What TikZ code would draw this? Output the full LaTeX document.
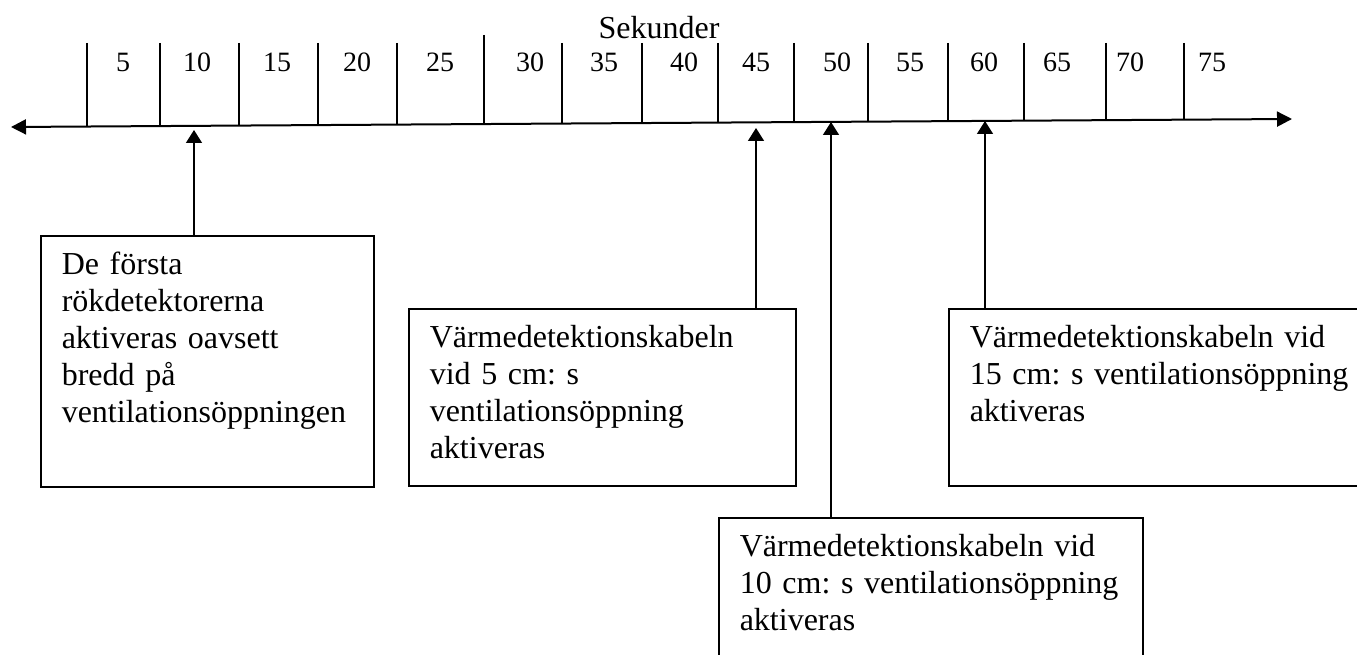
\documentclass[tikz,border=0pt]{standalone}
\usepackage{fontspec}
\setmainfont{Liberation Serif}
\usetikzlibrary{arrows.meta}
\frenchspacing
\hyphenpenalty=10000
\exhyphenpenalty=10000
\tikzset{
  box/.style={draw=black, line width=1.5pt, anchor=north west, align=left,
    inner xsep=21pt, inner ysep=13pt, text height=26pt,
    font=\fontsize{32}{37}\selectfont},
  num/.style={inner sep=0pt, font=\fontsize{28}{32}\selectfont},
  pil/.style={line width=1.5pt, -{Triangle[width=16pt,length=13pt]}},
  tick/.style={line width=1.5pt}
}
\begin{document}
\begin{tikzpicture}[x=1pt,y=-1pt]
            \useasboundingbox (0,0) rectangle (1357,655);
            \clip (0,0) rectangle (1357,655);
            \draw [line width=2pt, {Triangle[width=15pt,length=15pt]}-{Triangle[width=15pt,length=15pt]}] (11,127) -- (1292,119);
            \foreach \x/\top in {87/43,160/43,239/43,318/43,397/43,484/35,562/43,642/43,718/43,794/43,868/43,948/43,1024/43,1106/43,1184/43}
              \draw [tick] (\x,\top) -- (\x,{127-8*(\x-11)/1281});
            \foreach \x [count=\i] in {123,197,277,357,440,530,604,684,756,837,910,984,1057,1130,1212} {
              \pgfmathtruncatemacro{\sek}{5*\i}
              \node [num] (lbl\i) at (\x,62) {\sek};
            }
            \node [font=\fontsize{32}{37}\selectfont, inner sep=0pt] (rubrik) at (659,28) {Sekunder};
            \coordinate (t1) at (194,130);
            \coordinate (t2) at (756,128);
            \coordinate (t3) at (831,122);
            \coordinate (t4) at (985,121);
            \node [box, text width=291pt, text depth=199pt] (b1) at (40,235)
              {De första\\rökdetektorerna\\aktiveras oavsett\\bredd på\\ventilationsöppningen};
            \node [box, text width=345pt, text depth=125pt] (b2) at (408,308)
              {Värmedetektionskabeln\\vid 5 cm: s\\ventilationsöppning\\aktiveras};
            \node [box, text width=382pt, text depth=98pt] (b3) at (718,517)
              {Värmedetektionskabeln vid\\10 cm: s ventilationsöppning\\aktiveras};
            \node [box, text width=388pt, text depth=125pt] (b4) at (948,308)
              {Värmedetektionskabeln vid\\15 cm: s ventilationsöppning\\aktiveras};
            \draw [pil] (b1.north -| t1) -- (t1);
            \draw [pil] (b2.north -| t2) -- (t2);
            \draw [pil] (b3.north -| t3) -- (t3);
            \draw [pil] (b4.north -| t4) -- (t4);
\end{tikzpicture}
\end{document}
